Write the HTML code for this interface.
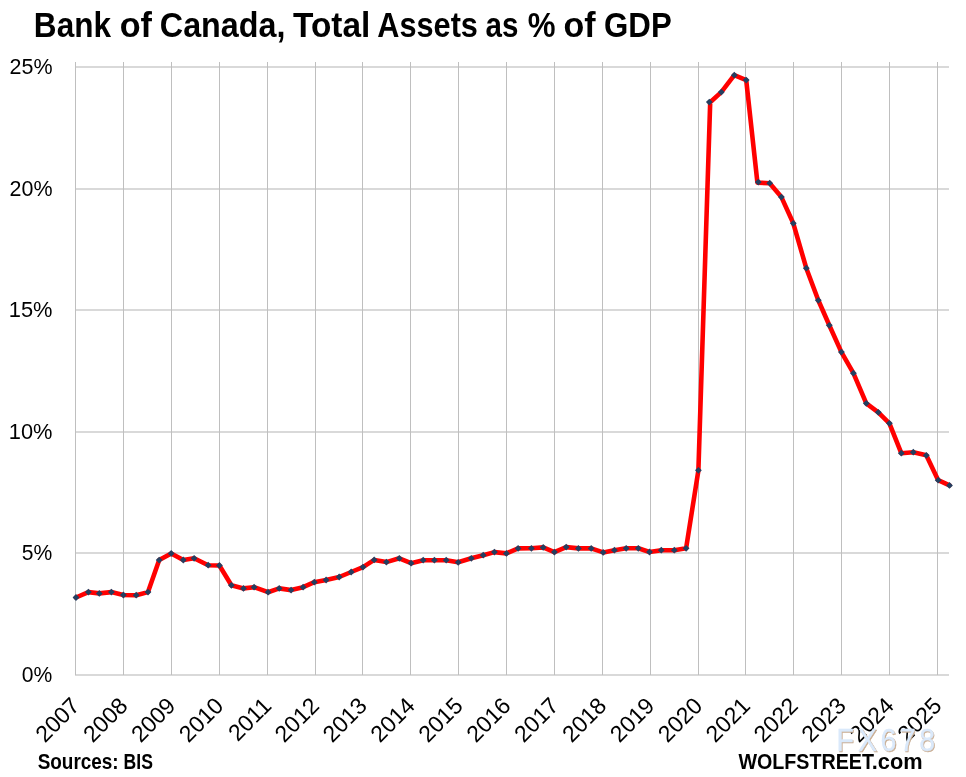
<!DOCTYPE html><html><head><meta charset="utf-8"><style>
html,body{margin:0;padding:0;background:#fff;}
body{width:966px;height:777px;overflow:hidden;}
svg{display:block;will-change:transform;}
text{font-family:"Liberation Sans",Arial,sans-serif;fill:#000;}
</style></head><body>
<svg width="966" height="777" viewBox="0 0 966 777">
<rect width="966" height="777" fill="#fff"/>
<line x1="75" y1="67.0" x2="949" y2="67.0" stroke="#d9d9d9" stroke-width="2"/>
<line x1="75" y1="189.0" x2="949" y2="189.0" stroke="#d9d9d9" stroke-width="2"/>
<line x1="75" y1="310.0" x2="949" y2="310.0" stroke="#d9d9d9" stroke-width="2"/>
<line x1="75" y1="432.0" x2="949" y2="432.0" stroke="#d9d9d9" stroke-width="2"/>
<line x1="75" y1="553.0" x2="949" y2="553.0" stroke="#d9d9d9" stroke-width="2"/>
<line x1="75" y1="675.0" x2="949" y2="675.0" stroke="#d9d9d9" stroke-width="2"/>
<line x1="75.5" y1="62" x2="75.5" y2="675" stroke="#bfbfbf" stroke-width="1"/>
<line x1="123.5" y1="62" x2="123.5" y2="675" stroke="#bfbfbf" stroke-width="1"/>
<line x1="171.5" y1="62" x2="171.5" y2="675" stroke="#bfbfbf" stroke-width="1"/>
<line x1="219.5" y1="62" x2="219.5" y2="675" stroke="#bfbfbf" stroke-width="1"/>
<line x1="267.5" y1="62" x2="267.5" y2="675" stroke="#bfbfbf" stroke-width="1"/>
<line x1="315.5" y1="62" x2="315.5" y2="675" stroke="#bfbfbf" stroke-width="1"/>
<line x1="362.5" y1="62" x2="362.5" y2="675" stroke="#bfbfbf" stroke-width="1"/>
<line x1="410.5" y1="62" x2="410.5" y2="675" stroke="#bfbfbf" stroke-width="1"/>
<line x1="458.5" y1="62" x2="458.5" y2="675" stroke="#bfbfbf" stroke-width="1"/>
<line x1="506.5" y1="62" x2="506.5" y2="675" stroke="#bfbfbf" stroke-width="1"/>
<line x1="554.5" y1="62" x2="554.5" y2="675" stroke="#bfbfbf" stroke-width="1"/>
<line x1="602.5" y1="62" x2="602.5" y2="675" stroke="#bfbfbf" stroke-width="1"/>
<line x1="650.5" y1="62" x2="650.5" y2="675" stroke="#bfbfbf" stroke-width="1"/>
<line x1="698.5" y1="62" x2="698.5" y2="675" stroke="#bfbfbf" stroke-width="1"/>
<line x1="745.5" y1="62" x2="745.5" y2="675" stroke="#bfbfbf" stroke-width="1"/>
<line x1="793.5" y1="62" x2="793.5" y2="675" stroke="#bfbfbf" stroke-width="1"/>
<line x1="841.5" y1="62" x2="841.5" y2="675" stroke="#bfbfbf" stroke-width="1"/>
<line x1="889.5" y1="62" x2="889.5" y2="675" stroke="#bfbfbf" stroke-width="1"/>
<line x1="937.5" y1="62" x2="937.5" y2="675" stroke="#bfbfbf" stroke-width="1"/>
<path d="M76.0,597.5 L88.4,592.1 L99.3,593.4 L111.4,592.1 L123.4,595.0 L136.2,595.2 L148.0,592.1 L159.2,560.1 L171.2,553.4 L183.3,560.0 L194.1,558.3 L208.2,565.2 L219.4,565.5 L231.4,585.3 L243.5,588.4 L254.1,587.2 L268.1,592.2 L279.2,588.4 L291.1,590.1 L303.1,587.2 L314.3,582.2 L326.1,580.0 L339.2,577.0 L351.2,572.0 L363.0,567.1 L374.2,559.9 L386.4,562.1 L399.3,558.3 L411.1,563.2 L423.2,560.2 L434.4,560.2 L446.2,560.2 L458.2,562.3 L471.3,558.3 L483.2,555.2 L494.4,552.1 L506.4,553.4 L518.1,548.4 L531.4,548.3 L543.2,547.4 L554.4,552.1 L566.2,547.1 L578.4,548.4 L591.2,548.4 L603.2,552.4 L614.4,550.2 L626.2,548.3 L638.3,548.3 L649.5,552.0 L661.3,550.2 L674.3,550.2 L686.1,548.3 L698.4,470.3 L710.2,102.3 L721.3,92.1 L734.3,75.2 L746.2,80.1 L757.4,182.6 L769.7,183.2 L781.4,197.1 L793.3,223.3 L806.3,268.2 L818.3,300.3 L829.3,325.3 L841.4,352.1 L853.4,373.2 L866.3,403.3 L878.3,412.3 L889.4,423.3 L901.3,453.2 L913.3,452.2 L926.3,455.3 L938.2,480.2 L949.5,485.4" fill="none" stroke="#ff0000" stroke-width="4.6" stroke-linejoin="round" stroke-linecap="round"/>
<path d="M76.0,594.1 L79.4,597.5 L76.0,600.9 L72.6,597.5 Z" fill="#243f60"/>
<path d="M88.4,588.7 L91.8,592.1 L88.4,595.5 L85.0,592.1 Z" fill="#243f60"/>
<path d="M99.3,590.0 L102.7,593.4 L99.3,596.8 L95.9,593.4 Z" fill="#243f60"/>
<path d="M111.4,588.7 L114.8,592.1 L111.4,595.5 L108.0,592.1 Z" fill="#243f60"/>
<path d="M123.4,591.6 L126.8,595.0 L123.4,598.4 L120.0,595.0 Z" fill="#243f60"/>
<path d="M136.2,591.8 L139.6,595.2 L136.2,598.6 L132.8,595.2 Z" fill="#243f60"/>
<path d="M148.0,588.7 L151.4,592.1 L148.0,595.5 L144.6,592.1 Z" fill="#243f60"/>
<path d="M159.2,556.7 L162.6,560.1 L159.2,563.5 L155.8,560.1 Z" fill="#243f60"/>
<path d="M171.2,550.0 L174.6,553.4 L171.2,556.8 L167.8,553.4 Z" fill="#243f60"/>
<path d="M183.3,556.6 L186.7,560.0 L183.3,563.4 L179.9,560.0 Z" fill="#243f60"/>
<path d="M194.1,554.9 L197.5,558.3 L194.1,561.7 L190.7,558.3 Z" fill="#243f60"/>
<path d="M208.2,561.8 L211.6,565.2 L208.2,568.6 L204.8,565.2 Z" fill="#243f60"/>
<path d="M219.4,562.1 L222.8,565.5 L219.4,568.9 L216.0,565.5 Z" fill="#243f60"/>
<path d="M231.4,581.9 L234.8,585.3 L231.4,588.7 L228.0,585.3 Z" fill="#243f60"/>
<path d="M243.5,585.0 L246.9,588.4 L243.5,591.8 L240.1,588.4 Z" fill="#243f60"/>
<path d="M254.1,583.8 L257.5,587.2 L254.1,590.6 L250.7,587.2 Z" fill="#243f60"/>
<path d="M268.1,588.8 L271.5,592.2 L268.1,595.6 L264.7,592.2 Z" fill="#243f60"/>
<path d="M279.2,585.0 L282.6,588.4 L279.2,591.8 L275.8,588.4 Z" fill="#243f60"/>
<path d="M291.1,586.7 L294.5,590.1 L291.1,593.5 L287.7,590.1 Z" fill="#243f60"/>
<path d="M303.1,583.8 L306.5,587.2 L303.1,590.6 L299.7,587.2 Z" fill="#243f60"/>
<path d="M314.3,578.8 L317.7,582.2 L314.3,585.6 L310.9,582.2 Z" fill="#243f60"/>
<path d="M326.1,576.6 L329.5,580.0 L326.1,583.4 L322.7,580.0 Z" fill="#243f60"/>
<path d="M339.2,573.6 L342.6,577.0 L339.2,580.4 L335.8,577.0 Z" fill="#243f60"/>
<path d="M351.2,568.6 L354.6,572.0 L351.2,575.4 L347.8,572.0 Z" fill="#243f60"/>
<path d="M363.0,563.7 L366.4,567.1 L363.0,570.5 L359.6,567.1 Z" fill="#243f60"/>
<path d="M374.2,556.5 L377.6,559.9 L374.2,563.3 L370.8,559.9 Z" fill="#243f60"/>
<path d="M386.4,558.7 L389.8,562.1 L386.4,565.5 L383.0,562.1 Z" fill="#243f60"/>
<path d="M399.3,554.9 L402.7,558.3 L399.3,561.7 L395.9,558.3 Z" fill="#243f60"/>
<path d="M411.1,559.8 L414.5,563.2 L411.1,566.6 L407.7,563.2 Z" fill="#243f60"/>
<path d="M423.2,556.8 L426.6,560.2 L423.2,563.6 L419.8,560.2 Z" fill="#243f60"/>
<path d="M434.4,556.8 L437.8,560.2 L434.4,563.6 L431.0,560.2 Z" fill="#243f60"/>
<path d="M446.2,556.8 L449.6,560.2 L446.2,563.6 L442.8,560.2 Z" fill="#243f60"/>
<path d="M458.2,558.9 L461.6,562.3 L458.2,565.7 L454.8,562.3 Z" fill="#243f60"/>
<path d="M471.3,554.9 L474.7,558.3 L471.3,561.7 L467.9,558.3 Z" fill="#243f60"/>
<path d="M483.2,551.8 L486.6,555.2 L483.2,558.6 L479.8,555.2 Z" fill="#243f60"/>
<path d="M494.4,548.7 L497.8,552.1 L494.4,555.5 L491.0,552.1 Z" fill="#243f60"/>
<path d="M506.4,550.0 L509.8,553.4 L506.4,556.8 L503.0,553.4 Z" fill="#243f60"/>
<path d="M518.1,545.0 L521.5,548.4 L518.1,551.8 L514.7,548.4 Z" fill="#243f60"/>
<path d="M531.4,544.9 L534.8,548.3 L531.4,551.7 L528.0,548.3 Z" fill="#243f60"/>
<path d="M543.2,544.0 L546.6,547.4 L543.2,550.8 L539.8,547.4 Z" fill="#243f60"/>
<path d="M554.4,548.7 L557.8,552.1 L554.4,555.5 L551.0,552.1 Z" fill="#243f60"/>
<path d="M566.2,543.7 L569.6,547.1 L566.2,550.5 L562.8,547.1 Z" fill="#243f60"/>
<path d="M578.4,545.0 L581.8,548.4 L578.4,551.8 L575.0,548.4 Z" fill="#243f60"/>
<path d="M591.2,545.0 L594.6,548.4 L591.2,551.8 L587.8,548.4 Z" fill="#243f60"/>
<path d="M603.2,549.0 L606.6,552.4 L603.2,555.8 L599.8,552.4 Z" fill="#243f60"/>
<path d="M614.4,546.8 L617.8,550.2 L614.4,553.6 L611.0,550.2 Z" fill="#243f60"/>
<path d="M626.2,544.9 L629.6,548.3 L626.2,551.7 L622.8,548.3 Z" fill="#243f60"/>
<path d="M638.3,544.9 L641.7,548.3 L638.3,551.7 L634.9,548.3 Z" fill="#243f60"/>
<path d="M649.5,548.6 L652.9,552.0 L649.5,555.4 L646.1,552.0 Z" fill="#243f60"/>
<path d="M661.3,546.8 L664.7,550.2 L661.3,553.6 L657.9,550.2 Z" fill="#243f60"/>
<path d="M674.3,546.8 L677.7,550.2 L674.3,553.6 L670.9,550.2 Z" fill="#243f60"/>
<path d="M686.1,544.9 L689.5,548.3 L686.1,551.7 L682.7,548.3 Z" fill="#243f60"/>
<path d="M698.4,466.9 L701.8,470.3 L698.4,473.7 L695.0,470.3 Z" fill="#243f60"/>
<path d="M709.3,98.7 L712.7,102.1 L709.3,105.5 L705.9,102.1 Z" fill="#243f60"/>
<path d="M721.3,88.7 L724.7,92.1 L721.3,95.5 L717.9,92.1 Z" fill="#243f60"/>
<path d="M734.3,71.8 L737.7,75.2 L734.3,78.6 L730.9,75.2 Z" fill="#243f60"/>
<path d="M746.2,76.7 L749.6,80.1 L746.2,83.5 L742.8,80.1 Z" fill="#243f60"/>
<path d="M758.3,178.7 L761.7,182.1 L758.3,185.5 L754.9,182.1 Z" fill="#243f60"/>
<path d="M769.7,179.8 L773.1,183.2 L769.7,186.6 L766.3,183.2 Z" fill="#243f60"/>
<path d="M781.4,193.7 L784.8,197.1 L781.4,200.5 L778.0,197.1 Z" fill="#243f60"/>
<path d="M793.3,219.9 L796.7,223.3 L793.3,226.7 L789.9,223.3 Z" fill="#243f60"/>
<path d="M806.3,264.8 L809.7,268.2 L806.3,271.6 L802.9,268.2 Z" fill="#243f60"/>
<path d="M818.3,296.9 L821.7,300.3 L818.3,303.7 L814.9,300.3 Z" fill="#243f60"/>
<path d="M829.3,321.9 L832.7,325.3 L829.3,328.7 L825.9,325.3 Z" fill="#243f60"/>
<path d="M841.4,348.7 L844.8,352.1 L841.4,355.5 L838.0,352.1 Z" fill="#243f60"/>
<path d="M853.4,369.8 L856.8,373.2 L853.4,376.6 L850.0,373.2 Z" fill="#243f60"/>
<path d="M866.3,399.9 L869.7,403.3 L866.3,406.7 L862.9,403.3 Z" fill="#243f60"/>
<path d="M878.3,408.9 L881.7,412.3 L878.3,415.7 L874.9,412.3 Z" fill="#243f60"/>
<path d="M889.4,419.9 L892.8,423.3 L889.4,426.7 L886.0,423.3 Z" fill="#243f60"/>
<path d="M901.3,449.8 L904.7,453.2 L901.3,456.6 L897.9,453.2 Z" fill="#243f60"/>
<path d="M913.3,448.8 L916.7,452.2 L913.3,455.6 L909.9,452.2 Z" fill="#243f60"/>
<path d="M926.3,451.9 L929.7,455.3 L926.3,458.7 L922.9,455.3 Z" fill="#243f60"/>
<path d="M938.2,476.8 L941.6,480.2 L938.2,483.6 L934.8,480.2 Z" fill="#243f60"/>
<path d="M949.5,482.0 L952.9,485.4 L949.5,488.8 L946.1,485.4 Z" fill="#243f60"/>
<text transform="translate(33.87,36.80) scale(0.9009,1)" font-size="35" font-weight="bold">Bank</text>
<text transform="translate(119.63,36.80) scale(0.9778,1)" font-size="35" font-weight="bold">of</text>
<text transform="translate(159.82,36.80) scale(0.9233,1)" font-size="35" font-weight="bold">Canada,</text>
<text transform="translate(293.02,36.80) scale(0.9551,1)" font-size="35" font-weight="bold">Total</text>
<text transform="translate(377.32,36.80) scale(0.8766,1)" font-size="35" font-weight="bold">Assets</text>
<text transform="translate(485.56,36.80) scale(0.8438,1)" font-size="35" font-weight="bold">as</text>
<text transform="translate(527.71,36.80) scale(0.8923,1)" font-size="35" font-weight="bold">%</text>
<text transform="translate(563.44,36.80) scale(0.9714,1)" font-size="35" font-weight="bold">of</text>
<text transform="translate(604.06,36.80) scale(0.8928,1)" font-size="35" font-weight="bold">GDP</text>
<text transform="translate(9.54,74.10) scale(0.9637,1)" font-size="22.3">25%</text>
<text transform="translate(9.54,196.10) scale(0.9637,1)" font-size="22.3">20%</text>
<text transform="translate(8.78,317.10) scale(0.9810,1)" font-size="22.3">15%</text>
<text transform="translate(8.78,439.10) scale(0.9810,1)" font-size="22.3">10%</text>
<text transform="translate(21.85,560.10) scale(0.9475,1)" font-size="22.3">5%</text>
<text transform="translate(21.85,682.10) scale(0.9475,1)" font-size="22.3">0%</text>
<text transform="translate(37.64,768.80) scale(0.8771,1)" font-size="21.6" font-weight="bold">Sources:</text>
<text transform="translate(123.58,768.80) scale(0.8148,1)" font-size="21.6" font-weight="bold">BIS</text>
<text transform="translate(738.40,768.70) scale(0.8597,1)" font-size="22.9" font-weight="bold">WOLFSTREET</text>
<text transform="translate(871.77,768.70) scale(0.9505,1)" font-size="22.9" font-weight="bold">.com</text>
<text transform="translate(81.1,707.2) rotate(-45)" font-size="23" text-anchor="end">2007</text>
<text transform="translate(129.0,707.2) rotate(-45)" font-size="23" text-anchor="end">2008</text>
<text transform="translate(176.9,707.2) rotate(-45)" font-size="23" text-anchor="end">2009</text>
<text transform="translate(224.8,707.2) rotate(-45)" font-size="23" text-anchor="end">2010</text>
<text transform="translate(272.7,707.2) rotate(-45)" font-size="23" text-anchor="end">2011</text>
<text transform="translate(320.5,707.2) rotate(-45)" font-size="23" text-anchor="end">2012</text>
<text transform="translate(368.4,707.2) rotate(-45)" font-size="23" text-anchor="end">2013</text>
<text transform="translate(416.3,707.2) rotate(-45)" font-size="23" text-anchor="end">2014</text>
<text transform="translate(464.2,707.2) rotate(-45)" font-size="23" text-anchor="end">2015</text>
<text transform="translate(512.1,707.2) rotate(-45)" font-size="23" text-anchor="end">2016</text>
<text transform="translate(560.0,707.2) rotate(-45)" font-size="23" text-anchor="end">2017</text>
<text transform="translate(607.9,707.2) rotate(-45)" font-size="23" text-anchor="end">2018</text>
<text transform="translate(655.8,707.2) rotate(-45)" font-size="23" text-anchor="end">2019</text>
<text transform="translate(703.7,707.2) rotate(-45)" font-size="23" text-anchor="end">2020</text>
<text transform="translate(751.5,707.2) rotate(-45)" font-size="23" text-anchor="end">2021</text>
<text transform="translate(799.4,707.2) rotate(-45)" font-size="23" text-anchor="end">2022</text>
<text transform="translate(847.3,707.2) rotate(-45)" font-size="23" text-anchor="end">2023</text>
<text transform="translate(895.2,707.2) rotate(-45)" font-size="23" text-anchor="end">2024</text>
<text transform="translate(943.1,707.2) rotate(-45)" font-size="23" text-anchor="end">2025</text>
<g transform="translate(0,751.2) scale(0.92,1)" font-size="31">
<text x="909.16 932.70 957.15 977.91 999.14" y="0" transform="translate(1,1)" style="fill:#c9ad92;stroke:#c9ad92;stroke-width:0.5">FX678</text>
<text x="909.16 932.70 957.15 977.91 999.14" y="0" style="fill:#dae9fb;stroke:#dae9fb;stroke-width:0.35">FX678</text></g>
</svg></body></html>
